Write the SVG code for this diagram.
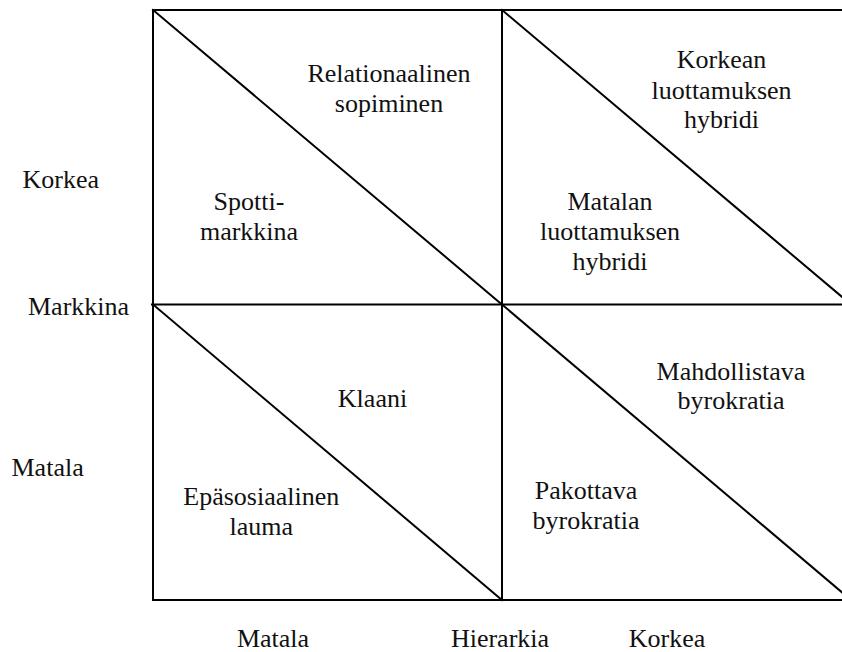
<svg xmlns="http://www.w3.org/2000/svg" width="842" height="652" viewBox="0 0 842 652">
  <style>
    .grid { stroke: #000; stroke-width: 2; fill: none; stroke-linecap: square; }
    .lbl { font-family: "Liberation Serif", "Times New Roman", serif; font-size: 26px; fill: #111; }
    .c { text-anchor: middle; }
  </style>
  <rect width="842" height="652" fill="#fff"/>

  <!-- grid lines and cell diagonals -->
  <g id="connectors" class="grid">
    <line x1="153" y1="10" x2="851" y2="10"/>
    <line x1="152" y1="304.5" x2="851" y2="304.5"/>
    <line x1="153" y1="600" x2="851" y2="600"/>
    <line x1="153" y1="10" x2="153" y2="600"/>
    <line x1="502" y1="10" x2="502" y2="600"/>
    <line x1="153" y1="10" x2="502" y2="304.5"/>
    <line x1="502" y1="10" x2="851" y2="304.5"/>
    <line x1="153" y1="304.5" x2="502" y2="600"/>
    <line x1="502" y1="304.5" x2="851" y2="600"/>
  </g>

  <g class="lbl">
    <!-- row axis labels -->
    <g id="axis-left">
      <text x="22.5" y="188">Korkea</text>
      <text x="28" y="315">Markkina</text>
      <text x="11.5" y="476">Matala</text>
    </g>

    <!-- column axis labels -->
    <g id="axis-bottom">
      <text class="c" x="273" y="647">Matala</text>
      <text class="c" x="500" y="647">Hierarkia</text>
      <text class="c" x="667" y="647">Korkea</text>
    </g>

    <g id="relationaalinen-sopiminen">
      <text class="c" x="389" y="81.7">Relationaalinen</text>
      <text class="c" x="389" y="111.5">sopiminen</text>
    </g>

    <g id="spottimarkkina">
      <text class="c" x="249" y="210">Spotti-</text>
      <text class="c" x="249" y="240">markkina</text>
    </g>

    <g id="korkean-luottamuksen-hybridi">
      <text class="c" x="721.5" y="68.3">Korkean</text>
      <text class="c" x="721.5" y="98.5">luottamuksen</text>
      <text class="c" x="721.5" y="128.3">hybridi</text>
    </g>

    <g id="matalan-luottamuksen-hybridi">
      <text class="c" x="610" y="210">Matalan</text>
      <text class="c" x="610" y="240">luottamuksen</text>
      <text class="c" x="610" y="270">hybridi</text>
    </g>

    <g id="klaani">
      <text class="c" x="372.5" y="406.7">Klaani</text>
    </g>

    <g id="epasosiaalinen-lauma">
      <text class="c" x="261.3" y="505">Epäsosiaalinen</text>
      <text class="c" x="261.3" y="535">lauma</text>
    </g>

    <g id="mahdollistava-byrokratia">
      <text class="c" x="731" y="380">Mahdollistava</text>
      <text class="c" x="731" y="409">byrokratia</text>
    </g>

    <g id="pakottava-byrokratia">
      <text class="c" x="586" y="499.3">Pakottava</text>
      <text class="c" x="586" y="528.5">byrokratia</text>
    </g>
  </g>
</svg>
